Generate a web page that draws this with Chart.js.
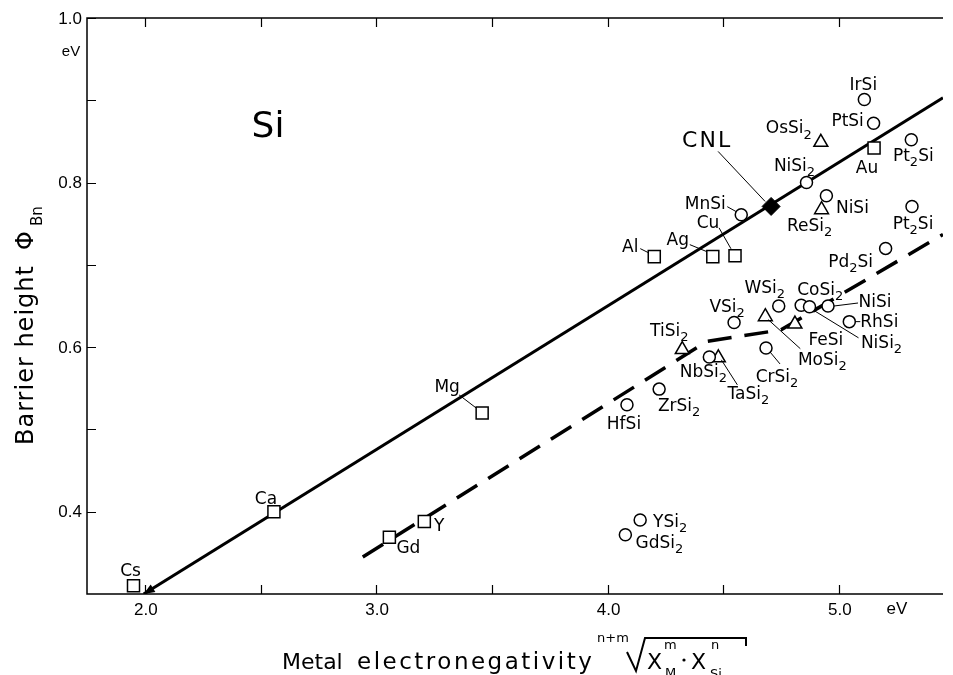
<!DOCTYPE html>
<html>
<head>
<meta charset="utf-8">
<script src="https://cdn.jsdelivr.net/npm/chart.js@4.4.0/dist/chart.umd.min.js"></script>
<style>
  html, body { margin: 0; padding: 0; background: #fff; }
  #wrap { width: 953px; height: 675px; }
</style>
</head>
<body>
<div id="wrap"><canvas id="chart" width="953" height="675"></canvas></div>
<script>
// barrier height vs electronegativity

const metalNames = ['Cs', 'Ca', 'Mg', 'Gd', 'Y', 'Al', 'Ag', 'Cu', 'Au'];
const metalX = [1.951, 2.558, 3.458, 3.057, 3.208, 4.202, 4.455, 4.551, 5.152];
const metalY = [0.310, 0.400, 0.520, 0.369, 0.388, 0.710, 0.710, 0.711, 0.842];

const circleNames = ['IrSi', 'PtSi', 'Pt_2Si', 'NiSi_2', 'MnSi', 'NiSi', 'Pt_2Si', 'Pd_2Si', 'WSi_2', 'CoSi_2',
                     'NiSi_2', 'NiSi', 'RhSi', 'VSi_2', 'NbSi_2', 'CrSi_2', 'ZrSi_2', 'HfSi', 'YSi_2', 'GdSi_2'];
const circleX = [5.110, 5.150, 5.313, 4.860, 4.578, 4.946, 5.316, 5.202, 4.740, 4.837,
                 4.873, 4.953, 5.045, 4.547, 4.440, 4.685, 4.223, 4.084, 4.141, 4.077];
const circleY = [0.901, 0.872, 0.852, 0.800, 0.761, 0.784, 0.771, 0.720, 0.650, 0.651,
                 0.649, 0.650, 0.631, 0.630, 0.588, 0.599, 0.549, 0.530, 0.390, 0.372];

const triNames = ['OsSi_2', 'ReSi_2', 'MoSi_2', 'FeSi', 'TiSi_2', 'TaSi_2'];
const triX = [4.922, 4.925, 4.682, 4.810, 4.323, 4.479];
const triY = [0.849, 0.767, 0.637, 0.628, 0.597, 0.587];

const cnlNames = ['CNL'];
const cnlX = [4.707];
const cnlY = [0.771];

// solid line (metals) and dashed line (silicides)
const fitX = [1.995, 5.45];
const fitY = [0.300, 0.903];
const dashX = [2.942, 4.43, 4.75, 5.45];
const dashY = [0.345, 0.607, 0.621, 0.737];

const xTicks = [2.0, 2.5, 3.0, 3.5, 4.0, 4.5, 5.0];
const xTickLabels = ['2.0', '', '3.0', '', '4.0', '', '5.0'];
const yTicks = [0.4, 0.5, 0.6, 0.7, 0.8, 0.9, 1.0];
const yTickLabels = ['0.4', '', '0.6', '', '0.8', '', '1.0'];

// label layout: text centre offset from the marker (px), optional leader line
const metalLabelPos = [[-3, -16], [-8, -14], [-35, -27], [19, 10], [15, 3], [-24, -11], [-35, -18], [-27, -34], [-7, 19]];
const metalLeaders = [null, null, [-23, -18, -6, -5], null, null, [-14, -8, -6, -4], [-23, -12, -6, -5], [-16, -28, -4, -7], null];

const circleLabelPos = [[-1, -16], [-26, -4], [2, 17], [-12, -16], [-36, -12], [26, 11], [1, 18], [-35, 14], [-14, -17], [19, -14],
                        [72, 37], [47, -5], [30, -1], [-7, -15], [-6, 16], [11, 30], [20, 18], [-3, 18], [30, 3], [34, 9]];
const circleLeaders = [null, null, null, null, [-14, -8, -5, -3], null, null, null, null, null,
                       [5, 4, 49, 31], [6, 0, 30, -3], [6, 0, 11, 0], null, null, [4, 4, 14, 16], null, null, null, null];

const triLabelPos = [[-32, -13], [-12, 17], [57, 44], [31, 15], [-13, -18], [30, 37]];
const triLeaders = [null, null, [3, 3, 35, 32], null, null, [3, 2, 19, 27]];

const cnlLabelPos = [[-65, -67]];
const cnlLeaders = [[-53, -55, -6, -5]];

const FONT = '"DejaVu Sans", sans-serif';

function pts(xs, ys) {
    return xs.map((x, i) => ({ x, y: ys[i] }));
}

// text with "_2" style subscripts, centred on (cx, cy)
function drawRich(ctx, text, cx, cy, size) {
    const parts = text.split(/(_\w)/).filter(s => s);
    const sub = Math.round(size * 0.75);
    let w = 0;
    const widths = parts.map(p => {
        const isSub = p[0] === '_';
        ctx.font = `${isSub ? sub : size}px ${FONT}`;
        const m = ctx.measureText(isSub ? p.slice(1) : p).width;
        w += m;
        return m;
    });
    const hasSub = parts.some(p => p[0] === '_');
    const base = cy + size * 0.365 - (hasSub ? 2 : 0);
    let x = cx - w / 2;
    parts.forEach((p, i) => {
        const isSub = p[0] === '_';
        ctx.font = `${isSub ? sub : size}px ${FONT}`;
        ctx.fillText(isSub ? p.slice(1) : p, x, isSub ? base + size * 0.3 : base);
        x += widths[i];
    });
}

function labelGroup(ctx, xs_, ys_, names, pos, leaders, sx, sy) {
    names.forEach((name, i) => {
        const px = sx.getPixelForValue(xs_[i]);
        const py = sy.getPixelForValue(ys_[i]);
        const ld = leaders[i];
        if (ld) {
            ctx.lineWidth = 1;
            ctx.beginPath();
            ctx.moveTo(px + ld[0], py + ld[1]);
            ctx.lineTo(px + ld[2], py + ld[3]);
            ctx.stroke();
        }
        if (name === 'CNL') {
            ctx.font = `22px ${FONT}`;
            ctx.letterSpacing = '2px';
            ctx.textAlign = 'center';
            ctx.fillText(name, px + pos[i][0] + 1, py + pos[i][1] + 8);
            ctx.letterSpacing = '0px';
            ctx.textAlign = 'left';
        } else {
            drawRich(ctx, name, px + pos[i][0], py + pos[i][1], 17);
        }
    });
}

const figurePlugin = {
    id: 'figure',
    afterDraw(chart) {
        const { ctx, chartArea: a, scales: { x, y } } = chart;
        ctx.save();
        ctx.strokeStyle = '#000';
        ctx.fillStyle = '#000';

        // frame: top, left, bottom (right side runs off the picture)
        ctx.lineWidth = 1.5;
        ctx.beginPath();
        ctx.moveTo(a.right, a.top);
        ctx.lineTo(a.left, a.top);
        ctx.lineTo(a.left, a.bottom);
        ctx.lineTo(a.right, a.bottom);
        ctx.stroke();

        // inward ticks
        ctx.lineWidth = 1.2;
        ctx.beginPath();
        xTicks.forEach(v => {
            const px = Math.round(x.getPixelForValue(v)) + 0.5;
            ctx.moveTo(px, a.bottom); ctx.lineTo(px, a.bottom - 9);
            ctx.moveTo(px, a.top); ctx.lineTo(px, a.top + 9);
        });
        yTicks.forEach(v => {
            const py = Math.round(y.getPixelForValue(v)) + 0.5;
            ctx.moveTo(a.left, py); ctx.lineTo(a.left + 9, py);
        });
        ctx.stroke();

        // tick labels
        ctx.font = '17px "Liberation Sans", sans-serif';
        ctx.textBaseline = 'middle';
        ctx.textAlign = 'center';
        xTicks.forEach((v, i) => {
            if (xTickLabels[i]) ctx.fillText(xTickLabels[i], x.getPixelForValue(v) + 1, a.bottom + 16);
        });
        ctx.fillText('eV', 897, a.bottom + 15);
        ctx.textAlign = 'right';
        yTicks.forEach((v, i) => {
            if (yTickLabels[i]) ctx.fillText(yTickLabels[i], a.left - 5, y.getPixelForValue(v) + 1);
        });
        ctx.textAlign = 'center';
        ctx.font = '15px "Liberation Sans", sans-serif';
        ctx.fillText('eV', 71, 52);

        // arrow head at the low end of the solid line
        const p0 = { x: x.getPixelForValue(fitX[0]), y: y.getPixelForValue(fitY[0]) };
        const p1 = { x: x.getPixelForValue(fitX[1]), y: y.getPixelForValue(fitY[1]) };
        const len = Math.hypot(p1.x - p0.x, p1.y - p0.y);
        const ux = (p1.x - p0.x) / len, uy = (p1.y - p0.y) / len;
        ctx.beginPath();
        ctx.moveTo(p0.x, p0.y);
        ctx.lineTo(p0.x + ux * 11 - uy * 4.5, p0.y + uy * 11 + ux * 4.5);
        ctx.lineTo(p0.x + ux * 11 + uy * 4.5, p0.y + uy * 11 - ux * 4.5);
        ctx.closePath();
        ctx.fill();

        // point labels
        ctx.textBaseline = 'alphabetic';
        ctx.textAlign = 'left';
        labelGroup(ctx, metalX, metalY, metalNames, metalLabelPos, metalLeaders, x, y);
        labelGroup(ctx, circleX, circleY, circleNames, circleLabelPos, circleLeaders, x, y);
        labelGroup(ctx, triX, triY, triNames, triLabelPos, triLeaders, x, y);
        labelGroup(ctx, cnlX, cnlY, cnlNames, cnlLabelPos, cnlLeaders, x, y);

        // panel label
        ctx.font = `36px ${FONT}`;
        ctx.textAlign = 'center';
        ctx.fillText('Si', 268, 137);

        // y title: Barrier height Φ_Bn
        ctx.save();
        ctx.translate(33, 445);
        ctx.rotate(-Math.PI / 2);
        ctx.textAlign = 'left';
        ctx.font = `24px ${FONT}`;
        ctx.letterSpacing = '1px';
        ctx.fillText('Barrier height', 0, 0);
        ctx.letterSpacing = '0px';
        ctx.fillText('\u03A6', 195, 0);
        ctx.font = `15px ${FONT}`;
        ctx.fillText('Bn', 219, 9);
        ctx.restore();

        // x title with the root formula
        ctx.textAlign = 'left';
        ctx.font = `22px ${FONT}`;
        ctx.fillText('Metal', 282, 669);
        ctx.font = `23px ${FONT}`;
        ctx.letterSpacing = '2.5px';
        ctx.fillText('electronegativity', 357, 669);
        ctx.letterSpacing = '0px';
        ctx.font = `13px ${FONT}`;
        ctx.fillText('n+m', 597, 642);
        ctx.lineWidth = 2;
        ctx.beginPath();
        ctx.moveTo(627, 652);
        ctx.lineTo(636, 671);
        ctx.lineTo(645, 638);
        ctx.lineTo(746, 638);
        ctx.lineTo(746, 646);
        ctx.stroke();
        ctx.font = `22px ${FONT}`;
        ctx.fillText('X', 647, 669);
        ctx.fillText('X', 691, 669);
        ctx.font = `13px ${FONT}`;
        ctx.fillText('m', 664, 649);
        ctx.fillText('M', 665, 677);
        ctx.fillText('n', 711, 649);
        ctx.fillText('Si', 710, 678);
        ctx.beginPath();
        ctx.arc(684, 660, 1.6, 0, Math.PI * 2);
        ctx.fill();

        ctx.restore();
    }
};

new Chart(document.getElementById('chart'), {
    type: 'scatter',
    data: {
        datasets: [
            {
                type: 'line', data: pts(fitX, fitY), order: 3,
                borderColor: '#000', borderWidth: 3, pointRadius: 0, fill: false,
            },
            {
                type: 'line', data: pts(dashX, dashY), order: 3,
                borderColor: '#000', borderWidth: 3.5, borderDash: [24, 13], pointRadius: 0, fill: false,
            },
            {
                data: pts(metalX, metalY), order: 1, pointStyle: 'rect', pointRadius: 8.5,
                backgroundColor: '#fff', borderColor: '#000', borderWidth: 1.5,
            },
            {
                data: pts(circleX, circleY), order: 1, pointStyle: 'circle', pointRadius: 6,
                backgroundColor: '#fff', borderColor: '#000', borderWidth: 1.5,
            },
            {
                data: pts(triX, triY), order: 1, pointStyle: 'triangle', pointRadius: 8,
                backgroundColor: '#fff', borderColor: '#000', borderWidth: 1.5,
            },
            {
                data: pts(cnlX, cnlY), order: 0, pointStyle: 'rectRot', pointRadius: 9,
                backgroundColor: '#000', borderColor: '#000', borderWidth: 1,
            },
        ]
    },
    options: {
        responsive: false,
        animation: false,
        events: [],
        layout: { padding: { left: 87, top: 18, right: 0, bottom: 81 } },
        scales: {
            x: { type: 'linear', display: false, min: 1.75, max: 5.45 },
            y: { type: 'linear', display: false, min: 0.3, max: 1.0 },
        },
        plugins: { legend: { display: false }, tooltip: { enabled: false } },
    },
    plugins: [figurePlugin],
});
</script>
</body>
</html>
